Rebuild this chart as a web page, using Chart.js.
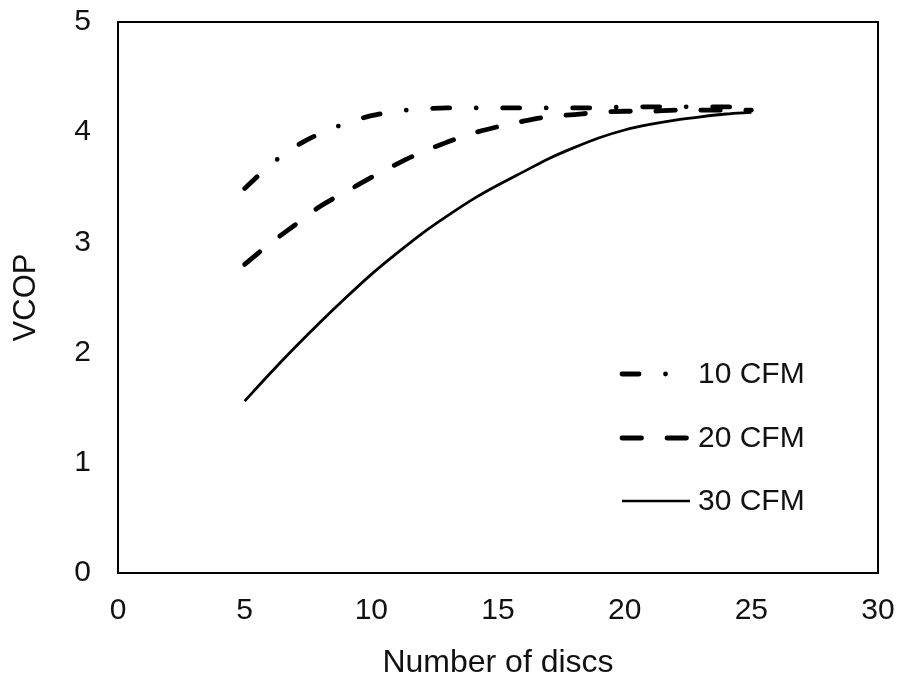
<!DOCTYPE html>
<html>
<head>
<meta charset="utf-8">
<script src="https://cdn.jsdelivr.net/npm/chart.js@4.4.1/dist/chart.umd.min.js"></script>
<style>
  html, body { margin: 0; padding: 0; background: #ffffff; }
  #wrap { width: 898px; height: 685px; }
</style>
</head>
<body>
<div id="wrap"><canvas id="c" width="898" height="685"></canvas></div>
<script>
// ---- data ----
const discs = [5, 6, 7, 8, 9, 10, 11, 12, 13, 14, 15, 16, 17, 18, 19, 20, 21, 22, 23, 24, 25];
const cfm10 = [3.49, 3.70, 3.87, 3.99, 4.08, 4.15, 4.19, 4.21, 4.22, 4.22, 4.22, 4.22, 4.22, 4.22, 4.22, 4.23, 4.23, 4.23, 4.23, 4.23, 4.22];
const cfm20 = [2.80, 2.99, 3.16, 3.33, 3.46, 3.59, 3.71, 3.82, 3.91, 3.99, 4.05, 4.10, 4.14, 4.16, 4.18, 4.19, 4.19, 4.20, 4.20, 4.20, 4.20];
const cfm30 = [1.56, 1.81, 2.05, 2.28, 2.50, 2.71, 2.90, 3.08, 3.24, 3.39, 3.52, 3.64, 3.76, 3.86, 3.95, 4.02, 4.07, 4.11, 4.14, 4.165, 4.18];
const seriesNames = ['10 CFM', '20 CFM', '30 CFM'];
const xTitle = 'Number of discs';
const yTitle = 'VCOP';

const FONT = '"Liberation Sans", Arial, sans-serif';
const TEXT = '#111111';

function pts(ys) { return discs.map((x, i) => ({ x: x, y: ys[i] })); }

const boxPlugin = {
  id: 'plotBox',
  beforeDatasetsDraw(chart) {
    const a = chart.chartArea, ctx = chart.ctx;
    ctx.save();
    ctx.strokeStyle = '#000000';
    ctx.lineWidth = 2;
    ctx.strokeRect(a.left, a.top, a.right - a.left, a.bottom - a.top);
    ctx.restore();
  }
};

const legendPlugin = {
  id: 'insideLegend',
  afterDatasetsDraw(chart) {
    const a = chart.chartArea, ctx = chart.ctx;
    const x0 = a.right - 256, x1 = a.right - 188, tx = a.right - 180;
    const rows = [a.top + 352, a.top + 416, a.top + 479];
    ctx.save();
    chart.data.datasets.forEach((ds, i) => {
      const y = rows[i];
      ctx.beginPath();
      ctx.setLineDash(ds.borderDash || []);
      ctx.lineCap = ds.borderCapStyle || 'butt';
      ctx.lineWidth = ds.legendWidth || ds.borderWidth;
      ctx.strokeStyle = ds.borderColor;
      ctx.moveTo(x0, y);
      ctx.lineTo(x1, y);
      ctx.stroke();
      ctx.setLineDash([]);
      ctx.fillStyle = TEXT;
      ctx.font = '30px ' + FONT;
      ctx.textAlign = 'left';
      ctx.textBaseline = 'middle';
      ctx.fillText(ds.label, tx, y + 1);
    });
    ctx.restore();
  }
};

new Chart(document.getElementById('c'), {
  type: 'line',
  data: {
    datasets: [
      { label: seriesNames[0], data: pts(cfm10), borderColor: '#000000', borderWidth: 4.8,
        borderDash: [17, 26.5, 0, 26.5], borderCapStyle: 'round', cubicInterpolationMode: 'monotone',
        pointRadius: 0, fill: false },
      { label: seriesNames[1], data: pts(cfm20), borderColor: '#000000', borderWidth: 4.8,
        borderDash: [19.5, 25.5], borderCapStyle: 'round', cubicInterpolationMode: 'monotone',
        pointRadius: 0, fill: false },
      { label: seriesNames[2], data: pts(cfm30), borderColor: '#000000', borderWidth: 2.8,
        legendWidth: 2.5, borderCapStyle: 'butt', cubicInterpolationMode: 'monotone',
        pointRadius: 0, fill: false }
    ]
  },
  options: {
    responsive: false,
    animation: false,
    devicePixelRatio: 1,
    layout: { padding: { left: 0, right: 20, top: 22, bottom: 0 } },
    plugins: { legend: { display: false }, tooltip: { enabled: false } },
    scales: {
      x: {
        type: 'linear', min: 0, max: 30,
        ticks: { stepSize: 5, font: { size: 30, family: FONT }, color: TEXT, padding: 20, maxRotation: 0 },
        grid: { display: false, drawTicks: false },
        border: { display: false },
        title: { display: true, text: xTitle, font: { size: 32, family: FONT }, color: TEXT, padding: { top: 0, bottom: 3 } },
        afterFit(s) { s.height = 112; s.paddingLeft = 0; s.paddingRight = 0; }
      },
      y: {
        type: 'linear', min: 0, max: 5,
        ticks: { stepSize: 1, font: { size: 30, family: FONT }, color: TEXT, padding: 27 },
        grid: { display: false, drawTicks: false },
        border: { display: false },
        title: { display: true, text: yTitle, font: { size: 31, family: FONT }, color: TEXT, padding: { top: 8, bottom: 0 } },
        afterFit(s) { s.width = 118; s.paddingTop = 0; s.paddingBottom = 0; }
      }
    }
  },
  plugins: [boxPlugin, legendPlugin]
});
</script>
</body>
</html>
